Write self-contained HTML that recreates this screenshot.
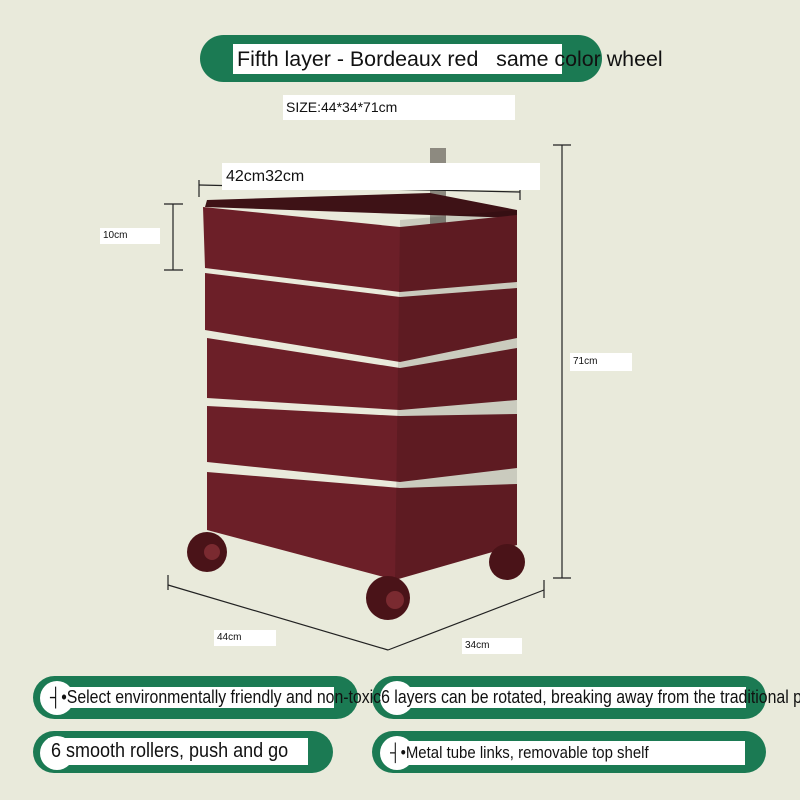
<!DOCTYPE html>
<html><head><style>
body{margin:0;width:800px;height:800px;background:#e9eadb;position:relative;overflow:hidden;font-family:"Liberation Sans",sans-serif}
.a{position:absolute}
.pill{position:absolute;background:#1b7a53;border-radius:24px}
.w{position:absolute;background:#fff}
.c{position:absolute;background:#fff;border-radius:50%}
.t{position:absolute;white-space:nowrap;color:#111;transform-origin:0 0}
</style></head><body>
<div class="pill" style="left:200px;top:35px;width:402px;height:47px"></div>
<div class="w" style="left:233px;top:44px;width:329px;height:30px"></div>
<div class="t" style="left:237px;top:47px;font-size:21.4px">Fifth layer - Bordeaux red &nbsp; same color wheel</div>
<div class="w" style="left:283px;top:95px;width:232px;height:25px"></div>
<div class="t" style="left:286px;top:99px;font-size:14px">SIZE:44*34*71cm</div>

<svg class="a" style="left:0;top:0" width="800" height="800">
<rect x="430" y="148" width="16" height="80" fill="#8d8a80"/>
<polygon points="207,200 430,193 517,210 517,218 205,207" fill="#3e1216"/>
<g fill="#6c1f28">
<polygon points="203,207 400,227 517,215 517,282 400,292 205,268"/>
<polygon points="205,273 400,297 517,288 517,338 400,362 205,330"/>
<polygon points="207,338 400,368 517,348 517,400 400,410 207,398"/>
<polygon points="207,406 400,416 517,414 517,468 400,482 207,462"/>
<polygon points="207,472 400,488 517,484 517,545 395,580 207,530"/>
</g>
<polygon points="400,220 517,210 517,545 395,580" fill="#000" opacity="0.13"/>
<circle cx="207" cy="552" r="20" fill="#4a1318"/><circle cx="212" cy="552" r="8" fill="#7a2a30"/>
<circle cx="388" cy="598" r="22" fill="#4a1318"/><circle cx="395" cy="600" r="9" fill="#7a2a30"/>
<circle cx="507" cy="562" r="18" fill="#4a1318"/>
<g stroke="#222" stroke-width="1.2" fill="none">
<line x1="562" y1="145" x2="562" y2="578"/><line x1="553" y1="145" x2="571" y2="145"/><line x1="553" y1="578" x2="571" y2="578"/>
<line x1="173" y1="204" x2="173" y2="270"/><line x1="164" y1="204" x2="183" y2="204"/><line x1="164" y1="270" x2="183" y2="270"/>
<line x1="199" y1="185" x2="520" y2="192"/><line x1="199" y1="180" x2="199" y2="197"/><line x1="520" y1="186" x2="520" y2="200"/>
<line x1="168" y1="585" x2="388" y2="650"/><line x1="388" y1="650" x2="544" y2="590"/>
<line x1="168" y1="575" x2="168" y2="590"/><line x1="544" y1="580" x2="544" y2="598"/>
</g>
</svg>
<div class="w" style="left:222px;top:163px;width:318px;height:27px"></div>
<div class="t" style="left:226px;top:168px;font-size:16px">42cm32cm</div>
<div class="w" style="left:100px;top:228px;width:60px;height:16px"></div>
<div class="t" style="left:103px;top:230px;font-size:10px">10cm</div>
<div class="w" style="left:570px;top:353px;width:62px;height:18px"></div>
<div class="t" style="left:573px;top:356px;font-size:10px">71cm</div>
<div class="w" style="left:214px;top:630px;width:62px;height:16px"></div>
<div class="t" style="left:217px;top:632px;font-size:10px">44cm</div>
<div class="w" style="left:462px;top:638px;width:60px;height:16px"></div>
<div class="t" style="left:465px;top:640px;font-size:10px">34cm</div>

<div class="pill" style="left:33px;top:676px;width:325px;height:43px;border-radius:22px"></div>
<div class="c" style="left:40px;top:681px;width:34px;height:34px"></div>
<div class="w" style="left:51px;top:687px;width:283px;height:21px"></div>
<div class="pill" style="left:372px;top:676px;width:394px;height:43px;border-radius:22px"></div>
<div class="c" style="left:380px;top:681px;width:34px;height:34px"></div>
<div class="w" style="left:388px;top:687px;width:358px;height:21px"></div>
<div class="t" style="left:50px;top:687px;font-size:18px;transform:scaleX(0.88)">┤•Select environmentally friendly and non-toxic6 layers can be rotated, breaking away from the traditional p</div>

<div class="pill" style="left:33px;top:731px;width:300px;height:42px;border-radius:22px"></div>
<div class="c" style="left:40px;top:736px;width:34px;height:34px"></div>
<div class="w" style="left:48px;top:738px;width:260px;height:27px"></div>
<div class="t" style="left:51px;top:740px;font-size:20px;transform:scaleX(0.9)">6 smooth rollers, push and go</div>
<div class="pill" style="left:372px;top:731px;width:394px;height:42px;border-radius:22px"></div>
<div class="c" style="left:380px;top:736px;width:34px;height:34px"></div>
<div class="w" style="left:388px;top:741px;width:357px;height:24px"></div>
<div class="t" style="left:390px;top:743px;font-size:17px;transform:scaleX(0.88)">┤•Metal tube links, removable top shelf</div>
</body></html>
